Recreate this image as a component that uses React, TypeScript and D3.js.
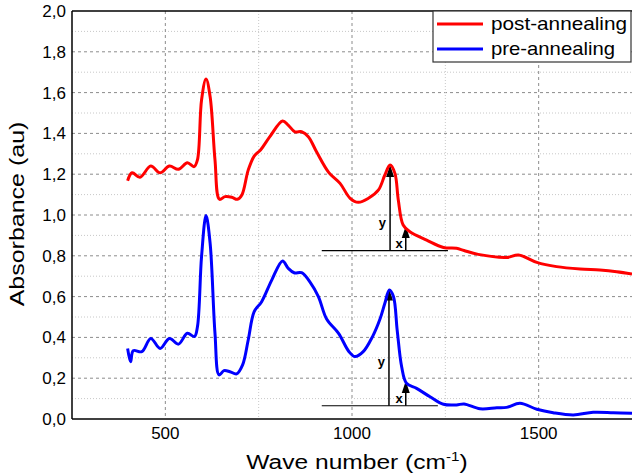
import React from 'react';
import * as d3 from 'd3';

const width = 632;
const height = 473;
const margin = { top: 11, right: 0, bottom: 54, left: 72 };

// post-annealing spectrum (red)
const postWave = [399, 411, 432, 461, 486, 511, 535, 559, 577, 586, 597, 609, 620, 633, 645, 660, 678, 693, 705, 722, 738, 755, 780, 814, 829, 847, 865, 883, 905, 938, 968, 995, 1017, 1044, 1071, 1088, 1102, 1115, 1124, 1137, 1155, 1200, 1245, 1280, 1300, 1338, 1414, 1446, 1495, 1548, 1611, 1664, 1709, 1750];
const postAbs = [1.168, 1.207, 1.185, 1.24, 1.207, 1.24, 1.224, 1.256, 1.237, 1.27, 1.564, 1.667, 1.58, 1.27, 1.077, 1.09, 1.087, 1.077, 1.098, 1.22, 1.289, 1.319, 1.384, 1.461, 1.441, 1.408, 1.408, 1.384, 1.31, 1.208, 1.155, 1.082, 1.062, 1.082, 1.123, 1.196, 1.245, 1.204, 1.074, 0.951, 0.918, 0.877, 0.841, 0.837, 0.826, 0.807, 0.792, 0.804, 0.768, 0.747, 0.735, 0.73, 0.722, 0.711];

// pre-annealing spectrum (blue)
const preWave = [399, 407, 414, 437, 461, 486, 511, 535, 559, 578, 586, 597, 609, 620, 633, 644, 657, 673, 691, 707, 722, 738, 758, 785, 814, 829, 845, 865, 888, 910, 932, 964, 992, 1008, 1030, 1055, 1075, 1088, 1100, 1111, 1121, 1133, 1146, 1173, 1209, 1245, 1280, 1300, 1343, 1388, 1414, 1450, 1495, 1539, 1593, 1646, 1700, 1750];
const preAbs = [0.346, 0.281, 0.335, 0.33, 0.395, 0.346, 0.395, 0.367, 0.42, 0.404, 0.452, 0.796, 0.997, 0.861, 0.42, 0.216, 0.237, 0.232, 0.221, 0.265, 0.387, 0.526, 0.575, 0.681, 0.775, 0.739, 0.717, 0.717, 0.67, 0.6, 0.49, 0.42, 0.33, 0.306, 0.33, 0.404, 0.49, 0.567, 0.632, 0.6, 0.436, 0.256, 0.175, 0.15, 0.109, 0.072, 0.069, 0.074, 0.05, 0.055, 0.057, 0.077, 0.048, 0.031, 0.02, 0.033, 0.031, 0.028];

// peak-height annotations: baseline, tall arrow (y) and shoulder arrow (x)
const annotations = [
  { base: 0.825, from: 919, to: 1257, yWave: 1102, yTop: 1.245, xWave: 1144, xTop: 0.946 },
  { base: 0.065, from: 919, to: 1230, yWave: 1099, yTop: 0.64, xWave: 1144, xTop: 0.186 },
];

const legendItems = [
  { label: 'post-annealing', color: '#ff0000' },
  { label: 'pre-annealing', color: '#0000ff' },
];

const majorY = d3.range(0.2, 1.99, 0.2);
const minorY = d3.range(0.1, 2.0, 0.2);
const yTicks = d3.range(0, 2.01, 0.2);
const xTicks = [500, 1000, 1500];
const minorX = [750, 1250];

const font = '"Liberation Sans", Arial, sans-serif';

// vertical arrow pointing up, with a filled triangular head
function Arrow({ x0, y0, y1 }: { x0: number; y0: number; y1: number }) {
  return (
    <g>
      <line x1={x0} x2={x0} y1={y0} y2={y1 + 8} stroke="#000" strokeWidth={1.5} />
      <path d={`M${x0 - 4},${y1 + 12} L${x0},${y1} L${x0 + 4},${y1 + 12} Z`} fill="#000" />
    </g>
  );
}

export default function App() {
  const x = d3.scaleLinear().domain([250, 1750]).range([margin.left, width - margin.right]);
  const y = d3.scaleLinear().domain([0, 2]).range([height - margin.bottom, margin.top]);

  const line = d3.line<number>().curve(d3.curveCatmullRom.alpha(0.5));
  const postPath = line(postWave.map((w, i) => [x(w), y(postAbs[i])] as any) as any);
  const prePath = line(preWave.map((w, i) => [x(w), y(preAbs[i])] as any) as any);

  const fmt = (v: number) => v.toFixed(1).replace('.', ',');

  return (
    <svg width={width} height={height} style={{ position: 'absolute', left: 0, top: 0 }} fontFamily={font}>
      <defs>
        <clipPath id="plot">
          <rect x={margin.left} y={margin.top} width={width - margin.left} height={height - margin.bottom - margin.top} />
        </clipPath>
      </defs>

      {/* grid */}
      {minorY.map(v => (
        <line key={'my' + v} x1={margin.left} x2={width} y1={y(v)} y2={y(v)} stroke="#c8c8c8" strokeDasharray="1,2" />
      ))}
      {majorY.map(v => (
        <line key={'My' + v} x1={margin.left} x2={width} y1={y(v)} y2={y(v)} stroke="#8c8c8c" strokeDasharray="3,3" />
      ))}
      {minorX.map(v => (
        <line key={'mx' + v} x1={x(v)} x2={x(v)} y1={margin.top} y2={height - margin.bottom} stroke="#c8c8c8" strokeDasharray="1,2" />
      ))}
      {xTicks.map(v => (
        <line key={'Mx' + v} x1={x(v)} x2={x(v)} y1={margin.top} y2={height - margin.bottom} stroke="#8c8c8c" strokeDasharray="3,3" />
      ))}

      {/* annotations */}
      {annotations.map((a, i) => (
        <g key={'a' + i}>
          <line x1={x(a.from)} x2={x(a.to)} y1={y(a.base)} y2={y(a.base)} stroke="#000" strokeWidth={1.2} />
          <Arrow x0={x(a.yWave)} y0={y(a.base)} y1={y(a.yTop)} />
          <Arrow x0={x(a.xWave)} y0={y(a.base)} y1={y(a.xTop)} />
          <text x={x(a.yWave) - 4} y={(y(a.base) + y(a.yTop)) / 2 + 19} fontSize={13} fontWeight="bold" textAnchor="end" fill="#000">y</text>
          <text x={x(a.xWave) - 3} y={y(a.base) - 3} fontSize={13} fontWeight="bold" textAnchor="end" fill="#000">x</text>
        </g>
      ))}

      {/* curves */}
      <g clipPath="url(#plot)">
        <path d={postPath || ''} fill="none" stroke="#ff0000" strokeWidth={3} />
        <path d={prePath || ''} fill="none" stroke="#0000ff" strokeWidth={3} />
      </g>

      {/* frame */}
      <line x1={margin.left} x2={margin.left} y1={margin.top} y2={height - margin.bottom} stroke="#000" strokeWidth={1.5} />
      <line x1={margin.left} x2={width} y1={margin.top} y2={margin.top} stroke="#000" strokeWidth={1.5} />
      <line x1={margin.left} x2={width} y1={height - margin.bottom} y2={height - margin.bottom} stroke="#000" strokeWidth={1.5} />

      {/* y ticks */}
      {yTicks.map(v => (
        <text key={'yt' + v} x={margin.left - 6} y={y(v)} dy="0.35em" textAnchor="end" fontSize={17} fill="#000">{fmt(v)}</text>
      ))}
      {/* x ticks */}
      {xTicks.map(v => (
        <text key={'xt' + v} x={x(v)} y={439} textAnchor="middle" fontSize={17} fill="#000">{v}</text>
      ))}

      {/* axis titles */}
      <g transform="translate(357,469) scale(1.17,1)">
        <text textAnchor="middle" fontSize={21} fill="#000">
          Wave number (cm<tspan fontSize={13} dy={-8}>-1</tspan><tspan dy={8}>)</tspan>
        </text>
      </g>
      <g transform="translate(24,214) rotate(-90) scale(1.25,1)">
        <text textAnchor="middle" fontSize={20} fill="#000">Absorbance (au)</text>
      </g>

      {/* legend */}
      <rect x={433} y={margin.top} width={198} height={51} fill="#fff" stroke="#333" strokeWidth={1.2} />
      {legendItems.map((d, i) => (
        <g key={d.label} transform={`translate(437,${24 + i * 25})`}>
          <line x1={0} x2={46} y1={0} y2={0} stroke={d.color} strokeWidth={3} />
          <text x={54} y={6} fontSize={19} fill="#000" textLength={i === 0 ? 136 : 124} lengthAdjust="spacingAndGlyphs">{d.label}</text>
        </g>
      ))}
    </svg>
  );
}
